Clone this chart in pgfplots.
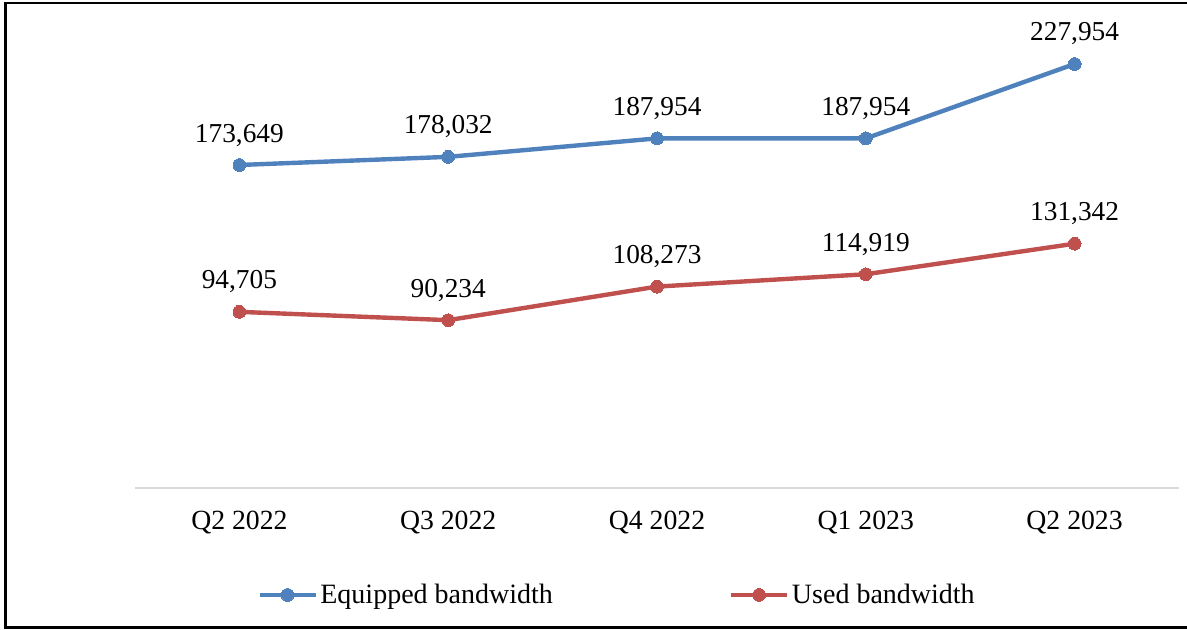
\documentclass[border=0pt]{standalone}
\usepackage{fontspec}
\setmainfont{Liberation Serif}
\usepackage{pgfplots}
\usepackage{pgfplotstable}
\pgfplotsset{compat=1.18}
\definecolor{eqblue}{HTML}{4F81BD}
\definecolor{usedred}{HTML}{C0504D}
\definecolor{axgray}{HTML}{D9D9D9}
\pgfplotstableread{
x y lab
0 173649 173,649
1 178032 178,032
2 187954 187,954
3 187954 187,954
4 227954 227,954
}\equipped
\pgfplotstableread{
x y lab
0 94705 94,705
1 90234 90,234
2 108273 108,273
3 114919 114,919
4 131342 131,342
}\used
\begin{document}
\begin{tikzpicture}[font=\fontsize{20.6}{24}\selectfont]
\useasboundingbox (0,0) rectangle (890.25pt,472.5pt);
\draw[line width=2.2pt] (900pt,470.25pt) -- (4pt,470.25pt) -- (4pt,1.6pt) -- (900pt,1.6pt);
\begin{axis}[
  at={(101.25pt,106.5pt)}, anchor=south west,
  scale only axis, width=783pt, height=348.75pt,
  xmin=-0.5, xmax=4.5, ymin=0, ymax=250000,
  axis x line*=bottom, axis y line=none,
  x axis line style={-, draw=axgray, line width=1.2pt},
  xtick={0,1,2,3,4},
  xticklabels={Q2 2022,Q3 2022,Q4 2022,Q1 2023,Q2 2023},
  major tick length=0pt,
  xticklabel style={anchor=base, yshift=-31.5pt, font=\fontsize{20.8}{24}\selectfont},
  ytick=\empty,
  clip=false,
  nodes near coords={\pgfplotspointmeta},
  point meta=explicit symbolic,
  nodes near coords align={anchor=base},
  every node near coord/.append style={yshift=17.25pt, text=black, font=\fontsize{20.5}{24}\selectfont},
  legend columns=2,
  legend style={at={(rel axis cs:0.1169,-0.230)}, anchor=west, draw=none, fill=none, inner sep=0pt,
    font=\fontsize{21}{24}\selectfont,
    /tikz/every even column/.append style={column sep=130pt}},
  legend cell align=left,
  legend image code/.code={\draw[#1, mark repeat=2, mark phase=2] plot coordinates {(0pt,0pt) (21pt,0pt) (42pt,0pt)};},
]
\addplot[eqblue, line width=3.3pt, mark=*, mark size=4.8pt, mark options={fill=eqblue, draw=eqblue, line width=0pt}]
  table[x=x, y=y, meta=lab] {\equipped};
\addlegendentry{Equipped bandwidth}
\addplot[usedred, line width=3.3pt, mark=*, mark size=4.8pt, mark options={fill=usedred, draw=usedred, line width=0pt}]
  table[x=x, y=y, meta=lab] {\used};
\addlegendentry{Used bandwidth}
\end{axis}
\end{tikzpicture}
\end{document}
